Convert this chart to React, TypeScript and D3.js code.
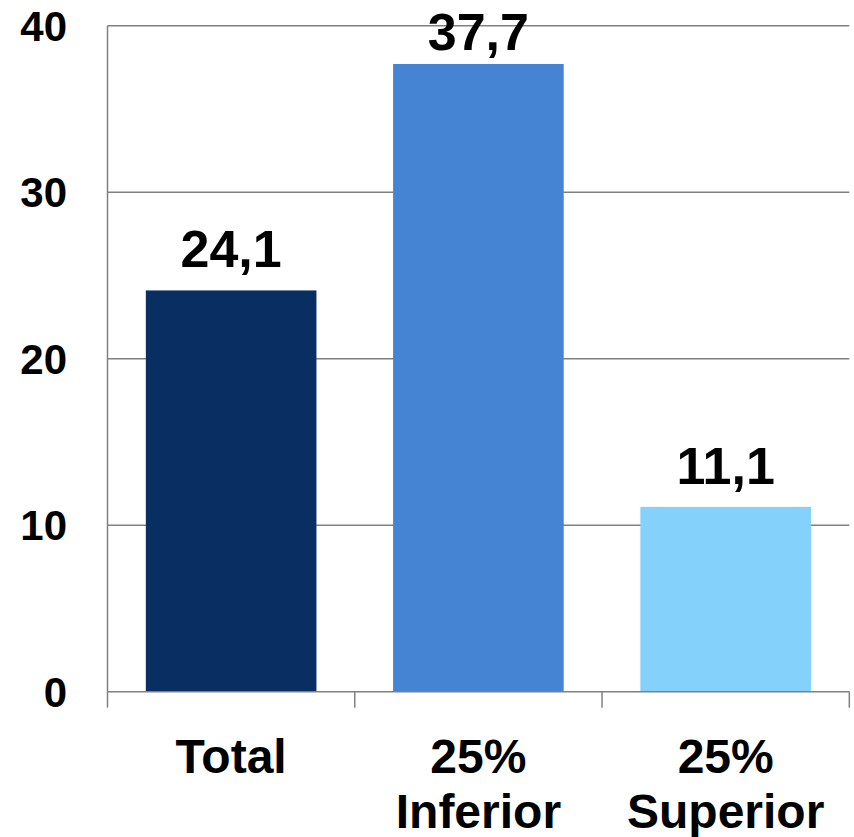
import React from "react";
import * as d3 from "d3";

const categories: string[][] = [["Total"], ["25%", "Inferior"], ["25%", "Superior"]];
const values: number[] = [24.1, 37.7, 11.1];
const valueLabels: string[] = ["24,1", "37,7", "11,1"];
const colors: string[] = ["#082E62", "#4584D3", "#84D2FC"];
const yTicks: number[] = [0, 10, 20, 30, 40];

const W = 854;
const H = 837;
const left = 107.5;
const right = 849.3;
const top = 25.7;
const bottom = 691.7;
const FONT = "'Liberation Sans', Arial, Helvetica, sans-serif";

export default function App() {
  const x = d3
    .scaleBand<number>()
    .domain(d3.range(values.length))
    .range([left, right])
    .paddingInner(0.31)
    .paddingOuter(0.155);
  const step = x.step();
  const y = d3.scaleLinear().domain([0, 40]).range([bottom, top]);
  const tickXs = d3.range(values.length + 1).map((i) => left + i * step);

  return (
    <svg
      width={W}
      height={H}
      style={{ position: "absolute", left: 0, top: 0, background: "#fff" }}
    >
      {yTicks
        .filter((t) => t > 0)
        .map((t) => (
          <line key={t} x1={left} x2={right} y1={y(t)} y2={y(t)} stroke="#808080" strokeWidth={1.5} />
        ))}
      {values.map((v, i) => (
        <rect
          key={i}
          x={x(i)!}
          y={y(v)}
          width={x.bandwidth()}
          height={y(0) - y(v)}
          fill={colors[i]}
        />
      ))}
      <line x1={left} x2={left} y1={top} y2={bottom} stroke="#808080" strokeWidth={1.5} />
      <line x1={left} x2={right} y1={bottom} y2={bottom} stroke="#808080" strokeWidth={1.5} />
      {tickXs.map((tx, i) => (
        <line key={i} x1={tx} x2={tx} y1={bottom} y2={bottom + 16} stroke="#808080" strokeWidth={1.5} />
      ))}
      {yTicks.map((t) => (
        <text
          key={t}
          x={67}
          y={y(t)}
          dy="0.36em"
          textAnchor="end"
          fontFamily={FONT}
          fontWeight="bold"
          fontSize={42}
          fill="#000"
        >
          {t}
        </text>
      ))}
      {values.map((v, i) => (
        <text
          key={i}
          x={x(i)! + x.bandwidth() / 2}
          y={Math.max(y(v) - 23, 50)}
          textAnchor="middle"
          fontFamily={FONT}
          fontWeight="bold"
          fontSize={52}
          fill="#000"
        >
          {valueLabels[i]}
        </text>
      ))}
      {categories.map((lines, i) => (
        <text
          key={i}
          x={x(i)! + x.bandwidth() / 2}
          textAnchor="middle"
          fontFamily={FONT}
          fontWeight="bold"
          fontSize={48}
          fill="#000"
        >
          {lines.map((ln, j) => (
            <tspan key={j} x={x(i)! + x.bandwidth() / 2} y={773 + j * 55}>
              {ln}
            </tspan>
          ))}
        </text>
      ))}
    </svg>
  );
}
